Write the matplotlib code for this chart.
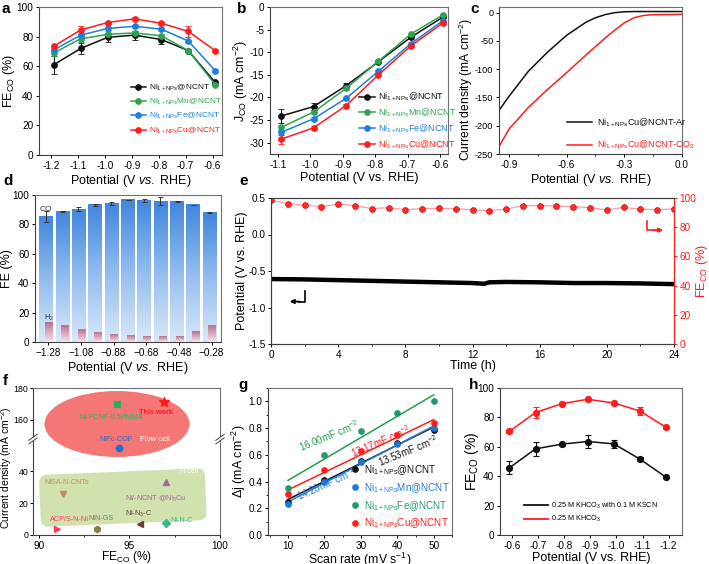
import numpy as np
import matplotlib
matplotlib.use('Agg')
import matplotlib.pyplot as plt
import matplotlib.transforms as mtransforms
from matplotlib.colors import LinearSegmentedColormap
from matplotlib.patches import Ellipse, FancyBboxPatch
from matplotlib.lines import Line2D
from matplotlib.ticker import MultipleLocator, NullLocator, FixedLocator

plt.rcParams['font.family'] = ['Liberation Sans', 'DejaVu Sans']
plt.rcParams['mathtext.fontset'] = 'custom'
plt.rcParams['mathtext.rm'] = 'Liberation Sans'
plt.rcParams['mathtext.it'] = 'Liberation Sans:italic'
plt.rcParams['mathtext.bf'] = 'Liberation Sans:bold'
plt.rcParams['axes.unicode_minus'] = False
plt.rcParams['font.size'] = 7
plt.rcParams['axes.linewidth'] = 0.8
plt.rcParams['axes.edgecolor'] = '#404040'
plt.rcParams['xtick.major.size'] = 2.5
plt.rcParams['ytick.major.size'] = 2.5
plt.rcParams['xtick.minor.size'] = 1.5
plt.rcParams['ytick.minor.size'] = 1.5
plt.rcParams['xtick.major.width'] = 0.7
plt.rcParams['ytick.major.width'] = 0.7
plt.rcParams['xtick.labelsize'] = 7.2
plt.rcParams['ytick.labelsize'] = 7.2
plt.rcParams['axes.labelsize'] = 9
plt.rcParams['axes.labelpad'] = 1.5

BLACK = '#111111'
GREEN = '#2ea44f'
BLUE = '#1e7fe0'
RED = '#ff1c1c'

# ---- panel a : FE_CO vs potential
pot_a = [-1.19, -1.09, -0.99, -0.89, -0.79, -0.69, -0.59]
fe_ni = [61, 72, 79.5, 81, 78, 70.5, 49]
fe_ni_err = [6, 4, 3, 3, 3, 1, 1]
fe_mn = [69, 78.5, 81.5, 82.5, 80.5, 70.5, 47.5]
fe_mn_err = [2, 2, 2, 1.5, 1.5, 1, 1]
fe_fe = [71, 81, 85.5, 87, 85, 77, 57]
fe_fe_err = [1, 1, 1, 1, 1, 1, 1]
fe_cu = [73.5, 84.5, 89.5, 92, 89, 83.5, 70.5]
fe_cu_err = [1, 2.5, 1, 1, 1, 4, 1]

# ---- panel b : partial CO current density
pot_b = [-1.09, -0.99, -0.89, -0.79, -0.69, -0.59]
j_ni = [-24.1, -22.0, -17.4, -12.1, -6.7, -2.2]
j_ni_err = [1.5, 0.8, 0.5, 0.3, 0.3, 0.2]
j_mn = [-26.6, -23.2, -18.0, -12.0, -6.0, -1.7]
j_mn_err = [0.5, 0.4, 0.3, 0.3, 0.3, 0.2]
j_fe = [-27.7, -24.7, -20.2, -14.2, -8.1, -3.0]
j_fe_err = [0.5, 0.4, 0.3, 0.3, 0.3, 0.2]
j_cu = [-29.2, -26.7, -21.8, -15.0, -8.6, -3.5]
j_cu_err = [1.0, 0.4, 0.3, 0.3, 0.3, 0.3]

sample_names = ['Ni$_{\\mathrm{1+NPs}}$@NCNT', 'Ni$_{\\mathrm{1+NPs}}$Mn@NCNT',
                'Ni$_{\\mathrm{1+NPs}}$Fe@NCNT', 'Ni$_{\\mathrm{1+NPs}}$Cu@NCNT']

# ---- panel c : LSV
lsv_ar_v = [-0.952, -0.9, -0.8, -0.7, -0.6, -0.5, -0.45, -0.4, -0.35, -0.3, -0.25, -0.2, 0.0]
lsv_ar_j = [-173, -148, -104, -70, -40, -17, -9, -3.5, 0, 1.5, 2, 2, 2]
lsv_co2_v = [-0.952, -0.9, -0.8, -0.7, -0.6, -0.5, -0.4, -0.35, -0.3, -0.25, -0.2, -0.15, 0.0]
lsv_co2_j = [-237, -206, -168, -136, -106, -75, -45, -31, -18, -9, -5, -3.5, -3]

# ---- panel d : FE bars
pot_d = [-1.28, -1.18, -1.08, -0.98, -0.88, -0.78, -0.68, -0.58, -0.48, -0.38, -0.28]
fe_co_d = [85.3, 88.7, 90.3, 93.2, 94.1, 96.6, 96.4, 95.9, 95.5, 93.2, 88.2]
fe_co_err = [3.5, 0.5, 1.2, 1.0, 0.8, 0.3, 1.2, 2.5, 0.3, 0.3, 0.5]
fe_h2_d = [13.6, 11.1, 8.4, 6.6, 5.0, 4.1, 3.8, 3.8, 3.9, 7.0, 11.1]
d_tick_labels = ['\u22121.28', '\u22121.08', '\u22120.88', '\u22120.68', '\u22120.48', '\u22120.28']

# ---- panel e : stability
time_pot = [0, 2, 4, 6, 8, 10, 12, 12.7, 13, 14, 16, 18, 20, 22, 24]
pot_e = [-0.61, -0.615, -0.625, -0.635, -0.645, -0.655, -0.665, -0.675, -0.655, -0.65,
         -0.655, -0.665, -0.665, -0.67, -0.68]
time_fe = list(range(25))
fe_e = [98.4, 96.1, 95.2, 94.1, 95.7, 94.8, 92.7, 93.4, 92.0, 92.7, 93.0, 92.7, 91.8,
        91.4, 92.3, 94.8, 94.8, 94.5, 94.1, 93.4, 91.8, 93.6, 92.3, 92.0, 92.5]

# ---- panel f : comparison
cmp_names = ['This work', 'Ni-PCNF-0.5PMMA', 'NiPc-COF', 'NiSA-N-CNTs', 'Ni/-NCNT @Ni$_3$Cu',
             'ACP/S-N-Ni', 'NiN-GS', 'Ni-N$_3$-C', 'Ni-N-C']
cmp_fe = [96.9, 94.3, 94.4, 91.3, 97.0, 91.0, 93.2, 95.6, 97.0]
cmp_j = [171.5, 170, 54.7, 25.9, 33.3, 4.0, 4.0, 6.9, 7.6]
cmp_markers = ['*', 's', 'o', 'v', '^', '>', 'h', '<', 'D']
cmp_colors = ['#ff1a1a', '#2fae5a', '#1f6fd0', '#c48a66', '#a06a9a', '#ff3d5e', '#8a7a4c', '#6e3a3a', '#38b884']
cmp_label_x = [96.45, 94.0, 94.25, 91.55, 96.45, 91.7, 93.45, 95.5, 97.9]
cmp_label_y = [164.5, 161.5, 59.5, 33, 22.5, 9.5, 10.5, 13.3, 9]

# ---- panel g : Cdl
scan_rate = [10, 20, 30, 40, 50]
dj_ni = [0.245, 0.415, 0.555, 0.685, 0.7875]
dj_mn = [0.23, 0.40, 0.55, 0.68, 0.80]
dj_fe = [0.355, 0.60, 0.78, 0.91, 1.0]
dj_cu = [0.31, 0.485, 0.625, 0.745, 0.8375]
cdl_text = ['13.53mF cm$^{-2}$', '14.28mF cm$^{-2}$', '16.00mF cm$^{-2}$', '13.17mF cm$^{-2}$']

# ---- panel h : KSCN poisoning
pot_h = [-0.59, -0.69, -0.79, -0.89, -0.99, -1.09, -1.19]
fe_kscn = [45.7, 58.6, 61.8, 63.6, 62.0, 51.6, 39.3]
fe_kscn_err = [4.5, 5, 1, 4.5, 2.5, 1.5, 0.5]
fe_khco3 = [70.5, 83.3, 89.3, 92.3, 89.8, 84.3, 73.2]
fe_khco3_err = [1, 4, 1, 1, 1, 2.5, 1]

W, H = 709, 564
fig = plt.figure(figsize=(W / 100, H / 100), dpi=100)


def make_ax(l, r, t, b):
    ax = fig.add_axes([l / W, 1 - b / H, (r - l) / W, (b - t) / H])
    ax.spines['top'].set_color('#707070')
    ax.spines['right'].set_color('#707070')
    ax.tick_params(direction='out', top=False, right=False, pad=1.5, which='both')
    return ax


def color_legend(leg, colors):
    for txt, c in zip(leg.get_texts(), colors):
        txt.set_color(c)


def plot_series(ax, x, y, err, c):
    ax.errorbar(x, y, yerr=err, color=c, lw=1.1, marker='o', ms=4.2, mfc=c,
                mec=c, mew=0.6, capsize=2, elinewidth=0.8, capthick=0.8)


colors4 = [BLACK, GREEN, BLUE, RED]

# ================= a
ax = make_ax(39, 222, 7, 155)
for y, e, c in zip([fe_ni, fe_mn, fe_fe, fe_cu], [fe_ni_err, fe_mn_err, fe_fe_err, fe_cu_err], colors4):
    plot_series(ax, pot_a, y, e, c)
ax.set_xlim(-1.245, -0.565)
ax.set_ylim(0, 100)
ax.yaxis.set_major_locator(MultipleLocator(20))
ax.set_xticks([-1.2, -1.1, -1.0, -0.9, -0.8, -0.7, -0.6])
ax.set_xticklabels(['-1.2', '-1.1', '-1.0', '-0.9', '-0.8', '-0.7', '-0.6'])
ax.set_xlabel('Potential (V $\\mathit{vs.}$ RHE)')
ax.set_ylabel('FE$_{\\mathrm{CO}}$ (%)', labelpad=0)
handles = [Line2D([], [], color=c, marker='o', ms=3.8, lw=1.1) for c in colors4]
leg = ax.legend(handles, sample_names, loc='upper left', bbox_to_anchor=(0.5, 0.49),
                frameon=False, fontsize=6.0, borderpad=0, borderaxespad=0,
                handlelength=1.9, handletextpad=0.3, labelspacing=0.5)
color_legend(leg, colors4)

# ================= b
ax = make_ax(270, 448, 7, 154)
for y, e, c in zip([j_ni, j_mn, j_fe, j_cu], [j_ni_err, j_mn_err, j_fe_err, j_cu_err], colors4):
    plot_series(ax, pot_b, y, e, c)
ax.set_xlim(-1.125, -0.575)
ax.set_ylim(-32.5, 0)
ax.set_xticks([-1.1, -1.0, -0.9, -0.8, -0.7, -0.6])
ax.set_xticklabels(['-1.1', '-1.0', '-0.9', '-0.8', '-0.7', '-0.6'])
ax.set_yticks([0, -5, -10, -15, -20, -25, -30])
ax.set_yticklabels(['0', '-5', '-10', '-15', '-20', '-25', '-30'])
ax.set_xlabel('Potential (V vs. RHE)')
ax.set_ylabel('J$_{\\mathrm{CO}}$ (mA cm$^{-2}$)', labelpad=0)
leg = ax.legend(handles, sample_names, loc='upper left', bbox_to_anchor=(0.5, 0.43),
                frameon=False, fontsize=6.5, borderpad=0, borderaxespad=0,
                handlelength=1.8, handletextpad=0.3, labelspacing=0.36)
color_legend(leg, colors4)

# ================= c
ax = make_ax(499, 682, 7, 154)
ax.plot(lsv_ar_v, lsv_ar_j, color=BLACK, lw=1.1, label='Ni$_{\\mathrm{1+NPs}}$Cu@NCNT-Ar')
ax.plot(lsv_co2_v, lsv_co2_j, color=RED, lw=1.1, label='Ni$_{\\mathrm{1+NPs}}$Cu@NCNT-CO$_2$')
ax.set_xlim(-0.952, 0.0)
ax.set_ylim(-250, 10)
ax.set_xticks([-0.9, -0.6, -0.3, 0.0])
ax.set_xticklabels(['-0.9', '-0.6', '-0.3', '0.0'])
ax.xaxis.set_minor_locator(MultipleLocator(0.15))
ax.set_yticks([0, -50, -100, -150, -200, -250])
ax.set_yticklabels(['0', '-50', '-100', '-150', '-200', '-250'])
ax.tick_params(axis='y', labelsize=6.6)
ax.set_xlabel('Potential (V $\\mathit{vs.}$ RHE)')
ax.set_ylabel('Current density (mA cm$^{-2}$)', fontsize=8.7)
ax.yaxis.set_label_coords((475 - 499) / 183, 0.44)
leg = ax.legend(loc='upper left', bbox_to_anchor=(0.37, 0.255), frameon=False, fontsize=6.5,
                borderpad=0, borderaxespad=0, handlelength=2.8, handletextpad=0.5,
                labelspacing=1.1)
color_legend(leg, [BLACK, RED])

# ================= d
ax = make_ax(35, 221, 195, 342)
co_cmap = LinearSegmentedColormap.from_list('co', ['#d8e8fa', '#92bcef', '#4286de'])
h2_cmap = LinearSegmentedColormap.from_list('h2', ['#f7e4ee', '#dca8c2', '#b8728f'])
grad = np.linspace(0, 1, 80).reshape(-1, 1)
for x, h in zip(pot_d, fe_co_d):
    ax.imshow(grad, cmap=co_cmap, extent=(x - 0.055, x + 0.025, 0, h), origin='lower',
              aspect='auto', zorder=2)
for x, h in zip(pot_d, fe_h2_d):
    ax.imshow(grad, cmap=h2_cmap, extent=(x - 0.02, x + 0.024, 0, h), origin='lower',
              aspect='auto', zorder=3)
ax.errorbar(np.array(pot_d) - 0.015, fe_co_d, yerr=fe_co_err, fmt='none', ecolor='#333333',
            elinewidth=0.7, capsize=1.8, capthick=0.7, zorder=4)
ax.set_xlim(-1.361, -0.223)
ax.set_ylim(0, 100)
ax.set_xticks(pot_d[::2])
ax.set_xticklabels(d_tick_labels)
ax.yaxis.set_major_locator(MultipleLocator(20))
ax.text(-1.335, 90, 'CO', fontsize=6, color='#333333', ha='left', va='center', zorder=5)
ax.text(-1.305, 16.5, 'H$_2$', fontsize=5.5, color='#333333', ha='left', va='center', zorder=5)
ax.set_xlabel('Potential (V $\\mathit{vs.}$ RHE)')
ax.set_ylabel('FE (%)', labelpad=0)

# ================= e
ax = make_ax(271, 674, 198, 344)
ax.plot(time_pot, pot_e, color='black', lw=3.2, solid_capstyle='butt')
ax.set_xlim(0, 24)
ax.set_ylim(-1.5, 0.5)
ax.xaxis.set_major_locator(MultipleLocator(4))
ax.xaxis.set_minor_locator(MultipleLocator(2))
ax.set_yticks([0.5, 0.0, -0.5, -1.0, -1.5])
ax.set_yticklabels(['0.5', '0.0', '-0.5', '-1.0', '-1.5'])
ax.set_xlabel('Time (h)', labelpad=0)
ax.set_ylabel('Potential (V vs. RHE)', labelpad=0)
ax.plot([2.04, 2.04, 1.6], [-0.78, -0.918, -0.918], color='black', lw=1.2)
ax.annotate('', xy=(1.12, -0.918), xytext=(1.7, -0.918),
            arrowprops=dict(arrowstyle='-|>,head_length=0.35,head_width=0.18', color='black',
                            lw=1.2, shrinkA=0, shrinkB=0))
ax2 = ax.twinx()
ax2.plot(time_fe, fe_e, color='#ff9c9c', lw=0.9, marker='o', ms=4.2, mfc='#ff2a2a',
         mec='#e60000', mew=0.5)
ax2.set_ylim(0, 100)
ax2.yaxis.set_major_locator(MultipleLocator(20))
ax2.spines['right'].set_color(RED)
ax2.tick_params(axis='y', colors=RED, direction='out', pad=1.5)
ax2.set_ylabel('FE$_{\\mathrm{CO}}$ (%)', color=RED)
ax2.yaxis.set_label_coords((694 - 271) / 403, 0.5)
ax2.plot([22.4, 22.4, 22.9], [84, 78, 78], color=RED, lw=1.2)
ax2.annotate('', xy=(23.35, 78), xytext=(22.8, 78),
             arrowprops=dict(arrowstyle='-|>,head_length=0.35,head_width=0.18', color=RED,
                             lw=1.2, shrinkA=0, shrinkB=0))

# ================= f
fl = 33
ax = make_ax(fl, 220, 388, 535)


def brk_fwd(y):
    y = np.asarray(y, dtype=float)
    return np.where(y <= 60, y, np.where(y >= 148, y - 88, 60))


def brk_inv(y):
    y = np.asarray(y, dtype=float)
    return np.where(y <= 60, y, y + 88)


ax.set_yscale('function', functions=(brk_fwd, brk_inv))
ax.set_ylim(0, 180)
ax.yaxis.set_major_locator(FixedLocator([0, 20, 40, 160, 180]))
ax.yaxis.set_minor_locator(NullLocator())
ax.tick_params(axis='y', labelsize=6.3, pad=0.8)
ax.set_xlim(89.67, 100)
ax.xaxis.set_major_locator(MultipleLocator(5))
ax.xaxis.set_minor_locator(MultipleLocator(2.5))
axw, axh = 220 - fl, 535 - 388
px = mtransforms.Affine2D().scale(1 / axw, 1 / axh) + ax.transAxes
ax.add_patch(Ellipse((84, 111), 145, 66, facecolor='#f4706f', edgecolor='none', alpha=0.95,
                     transform=px, zorder=1))
rect_tr = mtransforms.Affine2D().rotate_deg_around(8, 8, 2.4).scale(1 / axw, 1 / axh) + ax.transAxes
ax.add_patch(FancyBboxPatch((8, 8), 166, 52, boxstyle='round,pad=0,rounding_size=8',
                            facecolor='#cfe1ab', edgecolor='none', alpha=0.95,
                            transform=rect_tr, zorder=1))
for xv, yv, m, c in zip(cmp_fe, cmp_j, cmp_markers, cmp_colors):
    ax.plot(xv, yv, marker=m, ms=7 if m == '*' else 4.5, color=c, mec=c, ls='', zorder=3)
for name, lx, ly, c in zip(cmp_names, cmp_label_x, cmp_label_y, cmp_colors):
    ax.text(lx, ly, name, fontsize=5.2, color=c, ha='center', va='center',
            weight='bold' if name == 'This work' else 'normal', zorder=4)
ax.text(96.4, 59.5, 'Flow cell', fontsize=5.5, color='white', ha='center', va='center', zorder=4)
ax.text(98.3, 39.5, 'H cell', fontsize=5.2, color='white', ha='center', va='center', zorder=4)
yb = 60 / 92
for x0 in (0, 1):
    ax.add_patch(plt.Rectangle((x0 - 0.02, yb - 0.012), 0.04, 0.024, transform=ax.transAxes,
                               facecolor='white', edgecolor='none', clip_on=False, zorder=5))
    for dy in (-0.012, 0.012):
        ax.plot([x0 - 0.022, x0 + 0.022], [yb + dy - 0.02, yb + dy + 0.02], color='#404040',
                lw=0.7, transform=ax.transAxes, clip_on=False, zorder=6)
ax.set_xlabel('FE$_{\\mathrm{CO}}$ (%)', fontsize=8.6, labelpad=-1)
ax.set_ylabel('Current density (mA cm$^{-2}$)', fontsize=7.5)
ax.yaxis.set_label_coords((14.0 - fl) / axw, 0.46)

# ================= g
ax = make_ax(268, 452, 388, 535)
colors_g = [BLACK, '#1f78d8', '#1f9b6a', RED]
line_g = [BLACK, '#1f78d8', '#25a04a', RED]
for y, c, lc in zip([dj_ni, dj_mn, dj_fe, dj_cu], colors_g, line_g):
    k, b = np.polyfit(scan_rate, y, 1)
    xs = np.array([scan_rate[0], scan_rate[-1]])
    ax.plot(xs, k * xs + b, color=lc, lw=1.1, zorder=2)
    ax.plot(scan_rate, y, 'o', color=c, ms=3.8, zorder=3)
ax.set_xlim(4.5, 55)
ax.set_ylim(0, 1.1)
ax.xaxis.set_major_locator(MultipleLocator(10))
ax.xaxis.set_minor_locator(MultipleLocator(5))
ax.yaxis.set_major_locator(MultipleLocator(0.2))
ax.yaxis.set_minor_locator(MultipleLocator(0.1))
ax.text(42.9, 0.63, cdl_text[0], fontsize=7, color=BLACK, rotation=22, ha='center', va='center')
ax.text(20.4, 0.38, cdl_text[1], fontsize=7, color='#1f78d8', rotation=24, ha='center', va='center')
ax.text(21.1, 0.745, cdl_text[2], fontsize=7, color='#1f9b4a', rotation=22, ha='center', va='center')
ax.text(35.3, 0.70, cdl_text[3], fontsize=7, color=RED, rotation=23, ha='center', va='center')
ax.set_xlabel('Scan rate (mV s$^{-1}$)', fontsize=8.8, labelpad=0)
ax.set_ylabel('\u0394j (mA cm$^{-2}$)', labelpad=0)
handles_g = [Line2D([], [], color=c, marker='o', ms=3.8, ls='') for c in colors_g]
leg = ax.legend(handles_g, sample_names, loc='upper left', bbox_to_anchor=(0.44, 0.49),
                frameon=False, fontsize=7.1, borderpad=0, borderaxespad=0,
                handlelength=1.2, handletextpad=0.3, labelspacing=0.42)
color_legend(leg, colors_g)

# ================= h
ax = make_ax(500, 682, 388, 535)
ax.errorbar(pot_h, fe_kscn, yerr=fe_kscn_err, color=BLACK, lw=1.1, marker='o', ms=4.2,
            capsize=2, elinewidth=0.8, capthick=0.8, label='0.25 M KHCO$_3$ with 0.1 M KSCN')
ax.errorbar(pot_h, fe_khco3, yerr=fe_khco3_err, color=RED, lw=1.1, marker='o', ms=4.2,
            capsize=2, elinewidth=0.8, capthick=0.8, label='0.25 M KHCO$_3$')
ax.set_xlim(-0.554, -1.251)
ax.set_ylim(0, 100)
ax.set_xticks([-0.6, -0.7, -0.8, -0.9, -1.0, -1.1, -1.2])
ax.set_xticklabels(['-0.6', '-0.7', '-0.8', '-0.9', '-1.0', '-1.1', '-1.2'])
ax.yaxis.set_major_locator(MultipleLocator(20))
ax.set_xlabel('Potential (V vs. RHE)', labelpad=1)
ax.set_ylabel('FE$_{\\mathrm{CO}}$ (%)', fontsize=10)
ax.yaxis.set_label_coords((481 - 500) / 182, 0.5)
lh = [Line2D([], [], color=BLACK, lw=1.3), Line2D([], [], color=RED, lw=1.3)]
ax.legend(lh, ['0.25 M KHCO$_3$ with 0.1 M KSCN', '0.25 M KHCO$_3$'], loc='upper left',
          bbox_to_anchor=(0.13, 0.235), frameon=False, fontsize=5.2, borderpad=0,
          borderaxespad=0, handlelength=3.4, handletextpad=0.4, labelspacing=0.5)

# panel letters
for letter, (lx, ly) in zip('abcdefgh', [(2, 9), (237, 9), (470, 9), (3, 181), (239, 181),
                                         (3, 381), (238, 385), (469, 385)]):
    fig.text(lx / W, 1 - ly / H, letter, fontsize=11, weight='bold', ha='left', va='center')

fig.savefig('out.png', dpi=100)
